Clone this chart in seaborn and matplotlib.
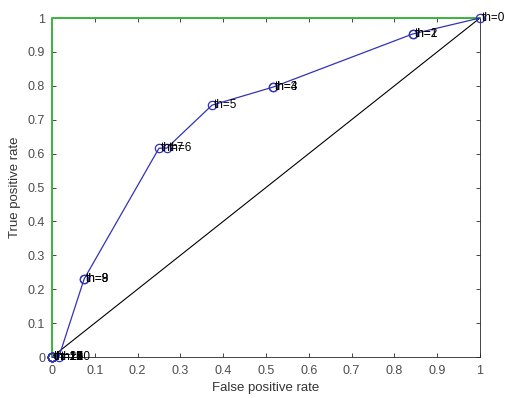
import matplotlib
matplotlib.use("Agg")
import matplotlib.pyplot as plt
import seaborn as sns
import pandas as pd

# ROC operating points for thresholds 0..20
thresholds = list(range(0, 21))
fpr = [1.0, 0.843, 0.843, 0.516, 0.516, 0.374, 0.268, 0.250, 0.075, 0.075,
       0.016, 0, 0, 0, 0, 0, 0, 0, 0, 0, 0]
tpr = [1.0, 0.953, 0.953, 0.796, 0.796, 0.743, 0.616, 0.616, 0.230, 0.230,
       0, 0, 0, 0, 0, 0, 0, 0, 0, 0, 0]
tick_values = [0, 0.1, 0.2, 0.3, 0.4, 0.5, 0.6, 0.7, 0.8, 0.9, 1]
tick_labels = ["0", "0.1", "0.2", "0.3", "0.4", "0.5", "0.6", "0.7", "0.8", "0.9", "1"]

roc = pd.DataFrame({"fpr": fpr, "tpr": tpr, "th": thresholds})

sns.set_style("ticks")
plt.rcParams["font.family"] = ["Liberation Sans", "DejaVu Sans"]

fig = plt.figure(figsize=(5.06, 3.98), dpi=100)
ax = fig.add_axes([52 / 506, 1 - 357 / 398, 428 / 506, 339 / 398])

# chance diagonal
sns.lineplot(x=[0, 1], y=[0, 1], color="black", linewidth=0.8,
             estimator=None, ax=ax)
# ideal classifier
sns.lineplot(x=[0, 0, 1], y=[0, 1, 1], sort=False, estimator=None,
             color="#3cb83c", linewidth=1.4, ax=ax, zorder=5, clip_on=False)
# ROC curve
sns.lineplot(data=roc, x="fpr", y="tpr", sort=False, estimator=None,
             color="#3333b8", linewidth=0.9, marker="o", markersize=6,
             markerfacecolor="none", markeredgecolor="#3333b8",
             markeredgewidth=0.9, ax=ax, zorder=6, clip_on=False)

for _, r in roc.iterrows():
    ax.annotate(f"th={int(r.th)}", (r.fpr, r.tpr), xytext=(1.5, 0),
                textcoords="offset points", va="center", ha="left",
                fontsize=8.5, color="black", zorder=7, annotation_clip=False)

ax.set_xlim(0, 1)
ax.set_ylim(0, 1)
ax.set_xticks(tick_values)
ax.set_xticklabels(tick_labels)
ax.set_yticks(tick_values)
ax.set_yticklabels(tick_labels)
ax.tick_params(direction="in", length=3, width=0.6, colors="#262626",
               labelcolor="#4d4d4d", labelsize=9, top=True, right=True)
ax.tick_params(axis="x", pad=6)
ax.tick_params(axis="y", pad=5)
for s in ax.spines.values():
    s.set_linewidth(0.6)
    s.set_color("#262626")
    s.set_visible(True)

ax.set_xlabel("False positive rate", fontsize=9.5, color="#333333", labelpad=3)
ax.set_ylabel("True positive rate", fontsize=9.5, color="#333333", labelpad=5)

fig.savefig("out.png", dpi=100)
